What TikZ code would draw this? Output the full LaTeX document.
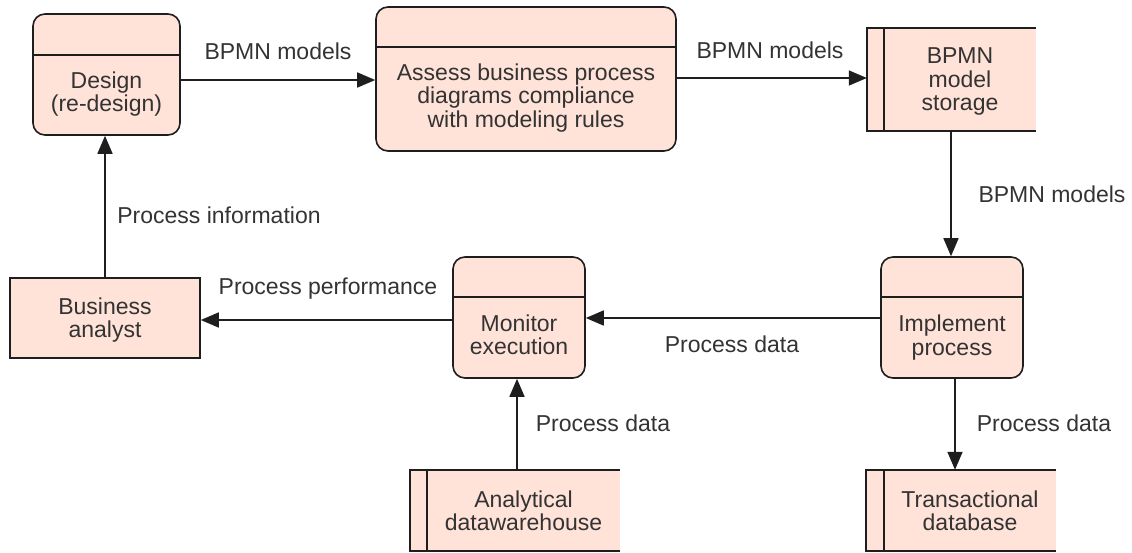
\documentclass[tikz,border=0pt]{standalone}
\usepackage{fontspec}
\setmainfont{Liberation Sans}
\usetikzlibrary{arrows.meta}
\definecolor{boxfill}{RGB}{255,226,216}
\definecolor{ink}{RGB}{30,30,30}
\definecolor{txt}{RGB}{51,51,51}

\begin{document}
\begin{tikzpicture}[x=1pt,y=-1pt,
  every node/.style={font=\fontsize{23}{23.5}\selectfont, text=txt, align=center, inner sep=0pt},
  proc/.style={draw=ink, fill=boxfill, line width=1.6pt, rounded corners=12pt},
  actor/.style={draw=ink, fill=boxfill, line width=1.6pt},
  store/.style={fill=boxfill},
  edge/.style={draw=ink, line width=1.6pt},
  flow/.style={draw=ink, line width=1.6pt, -{Triangle[length=18pt,width=15pt]}}]

\useasboundingbox (0,0) rectangle (1132,552);

% processes (rounded boxes with a header band)
\node[proc, minimum width=147pt, minimum height=121pt] (design) at (106.5,74.5) {};
\draw[edge] (design.west |- 0,55) -- (design.east |- 0,55);
\node (designtxt) at (106.5,94) {Design\\(re-design)};

\node[proc, minimum width=300pt, minimum height=144pt] (assess) at (526,79) {};
\draw[edge] (assess.west |- 0,47) -- (assess.east |- 0,47);
\node (assesstxt) at (526,98) {Assess business process\\diagrams compliance\\with modeling rules};

\node[proc, minimum width=132pt, minimum height=121pt] (monitor) at (519,317.5) {};
\draw[edge] (monitor.west |- 0,297) -- (monitor.east |- 0,297);
\node (monitortxt) at (519,335) {Monitor\\execution};

\node[proc, minimum width=142pt, minimum height=121pt] (implement) at (952,317.5) {};
\draw[edge] (implement.west |- 0,297) -- (implement.east |- 0,297);
\node (implementtxt) at (952,337.5) {Implement\\process};

% external entity
\node[actor, minimum width=190pt, minimum height=80pt] (analyst) at (105,318) {};
\node (analysttxt) at (105,320) {Business\\analyst};

% data stores (open on the right)
\node[store, minimum width=169pt, minimum height=103pt] (storage) at (951.5,79.5) {};
\draw[edge] (storage.north east) -- (storage.north west) -- (storage.south west) -- (storage.south east);
\draw[edge] ([xshift=17pt]storage.north west) -- ([xshift=17pt]storage.south west);
\node (storagetxt) at (960,81.5) {BPMN\\model\\storage};

\node[store, minimum width=210pt, minimum height=81pt] (warehouse) at (515,510.5) {};
\draw[edge] (warehouse.north east) -- (warehouse.north west) -- (warehouse.south west) -- (warehouse.south east);
\draw[edge] ([xshift=17pt]warehouse.north west) -- ([xshift=17pt]warehouse.south west);
\node (warehousetxt) at (523.5,511) {Analytical\\datawarehouse};

\node[store, minimum width=190pt, minimum height=81pt] (txdb) at (961,510.5) {};
\draw[edge] (txdb.north east) -- (txdb.north west) -- (txdb.south west) -- (txdb.south east);
\draw[edge] ([xshift=18pt]txdb.north west) -- ([xshift=18pt]txdb.south west);
\node (txdbtxt) at (970,511) {Transactional\\database};

% data flows
\draw[flow] (design.east |- 0,80) -- (assess.west |- 0,80);
\draw[flow] (assess.east |- 0,78) -- (storage.west |- 0,78);
\draw[flow] (storage.south -| 951,0) -- (implement.north -| 951,0);
\draw[flow] (implement.west |- 0,318) -- (monitor.east |- 0,318);
\draw[flow] (monitor.west |- 0,320) -- (analyst.east |- 0,320);
\draw[flow] (analyst.north -| 105,0) -- (design.south -| 105,0);
\draw[flow] (warehouse.north -| 517,0) -- (monitor.south -| 517,0);
\draw[flow] (implement.south -| 955,0) -- (txdb.north -| 955,0);

% flow labels
\node (l1) at (278,51) {BPMN models};
\node (l2) at (770,50) {BPMN models};
\node (l3) at (1052,194) {BPMN models};
\node (l4) at (219,215) {Process information};
\node (l5) at (328,289) {Process performance};
\node (l6) at (732,344) {Process data};
\node (l7) at (603,423) {Process data};
\node (l8) at (1044,423) {Process data};
\end{tikzpicture}
\end{document}
